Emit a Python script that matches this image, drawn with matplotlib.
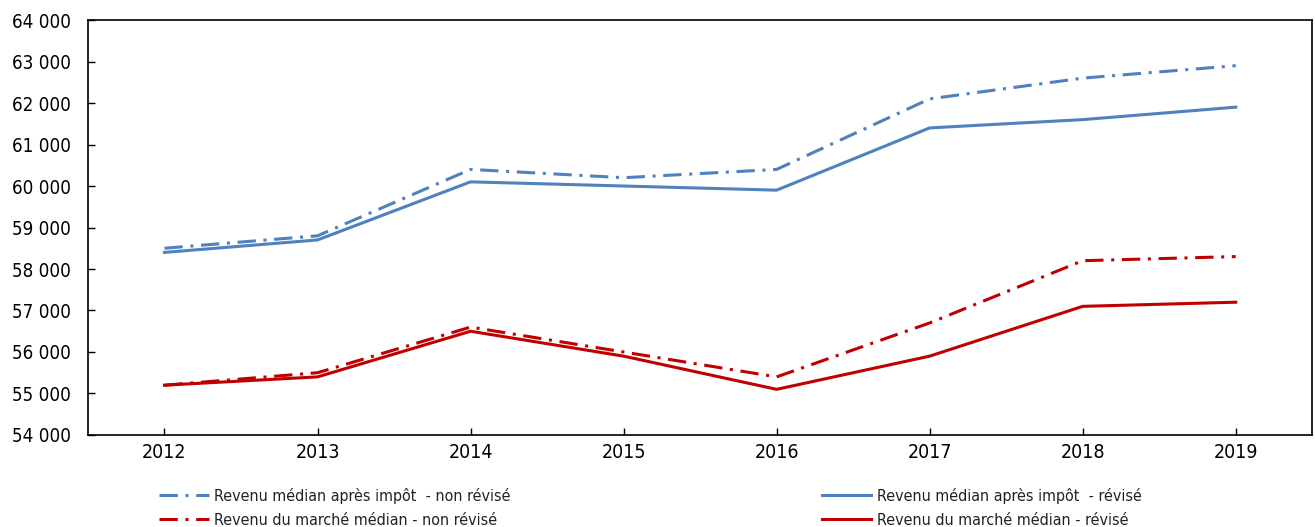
import matplotlib.pyplot as plt

# Data
years = ['2012', '2013', '2014', '2015', '2016', '2017', '2018', '2019']
apres_impot_non_revise = [58500, 58800, 60400, 60200, 60400, 62100, 62600, 62900]
apres_impot_revise = [58400, 58700, 60100, 60000, 59900, 61400, 61600, 61900]
marche_non_revise = [55200, 55500, 56600, 56000, 55400, 56700, 58200, 58300]
marche_revise = [55200, 55400, 56500, 55900, 55100, 55900, 57100, 57200]

labels = ['Revenu médian après impôt  - non révisé',
          'Revenu du marché médian - non révisé',
          'Revenu médian après impôt  - révisé',
          'Revenu du marché médian - révisé']

# Condensed font, close to the narrow face of the original
plt.rcParams['font.family'] = ['DejaVu Sans']
plt.rcParams['font.stretch'] = 'condensed'

blue = '#4F81BD'
red = '#C00000'
dashdot = (0, (6, 2.5, 1, 2.5))

fig = plt.figure(figsize=(13.15, 5.27), dpi=100)
ax = fig.add_axes([0.0669, 0.1746, 0.931, 0.7874])

x = range(len(years))
l1, = ax.plot(x, apres_impot_non_revise, color=blue, lw=2.2, linestyle=dashdot)
l3, = ax.plot(x, apres_impot_revise, color=blue, lw=2.2)
l2, = ax.plot(x, marche_non_revise, color=red, lw=2.2, linestyle=dashdot)
l4, = ax.plot(x, marche_revise, color=red, lw=2.2)

ax.set_xlim(-0.5, len(years) - 0.5)
ax.set_ylim(54000, 64000)
ax.set_yticks(range(54000, 64001, 1000))
ax.set_yticklabels([f'{v:,}'.replace(',', ' ') for v in range(54000, 64001, 1000)])
ax.set_xticks(list(x))
ax.set_xticklabels(years)
ax.tick_params(axis='both', labelsize=14, direction='in', length=5, width=1, colors='black')
ax.tick_params(axis='y', labelsize=13.5, pad=12)
ax.tick_params(axis='x', pad=6)
for s in ax.spines.values():
    s.set_linewidth(1.2)

leg_kw = dict(frameon=False, fontsize=11.5, handlelength=3.1, handletextpad=0.35,
              labelspacing=0.55, borderpad=0, borderaxespad=0, labelcolor='#222222')
fig.legend([l1, l2], labels[:2], loc='upper left', bbox_to_anchor=(0.121, 0.074), **leg_kw)
fig.legend([l3, l4], labels[2:], loc='upper left', bbox_to_anchor=(0.625, 0.074), **leg_kw)

fig.savefig('out.png', dpi=100)
